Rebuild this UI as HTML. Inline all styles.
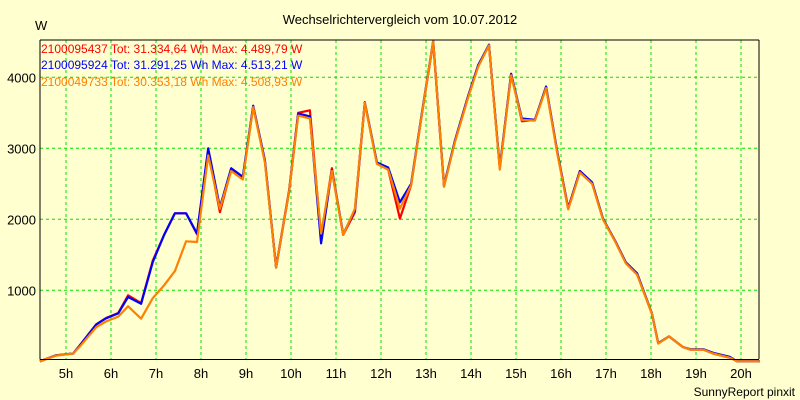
<!DOCTYPE html>
<html><head><meta charset="utf-8"><style>
body{margin:0;background:#ffffd0;}
svg{display:block;font-family:"Liberation Sans",Arial,sans-serif;}
</style></head><body>
<svg id="chart" width="800" height="400">
<rect x="0" y="0" width="800" height="400" fill="#ffffd0"/>
<text x="400" y="24" text-anchor="middle" font-size="13">Wechselrichtervergleich vom 10.07.2012</text>
<text x="35" y="30" font-size="13">W</text>
<text x="795" y="396" text-anchor="end" font-size="12">SunnyReport pinxit</text>
<g id="grid"></g>
<g id="series"></g>
<line x1="40" y1="40" x2="759" y2="40" stroke="#000"/>
<line x1="759" y1="40" x2="759" y2="359" stroke="#000"/>
<line x1="40" y1="40" x2="40" y2="359.5" stroke="#000"/>
<line x1="40" y1="359.5" x2="759" y2="359.5" stroke="#000"/>
<g id="legend" font-size="12">
<text x="41" y="53" fill="#ff0000">2100095437 Tot: 31.334,64 Wh Max: 4.489,79 W</text>
<text x="41" y="69" fill="#0000ff">2100095924 Tot: 31.291,25 Wh Max: 4.513,21 W</text>
<text x="41" y="86" fill="#ff8000">2100049733 Tot: 30.353,18 Wh Max: 4.508,93 W</text>
</g>
</svg>
<script>
const times=[4.42,4.78,5.16,5.31,5.67,5.89,6.16,6.38,6.67,6.93,7.18,7.42,7.67,7.91,8.16,8.42,8.67,8.93,9.16,9.42,9.67,9.96,10.16,10.42,10.67,10.91,11.16,11.42,11.64,11.91,12.16,12.42,12.67,12.91,13.16,13.4,13.64,13.93,14.16,14.4,14.64,14.89,15.13,15.42,15.67,15.91,16.16,16.42,16.69,16.93,17.2,17.44,17.69,18.02,18.16,18.4,18.71,18.87,19.16,19.38,19.76,19.91,20.42];
const blueVals=[0,85,110,225,520,605,675,905,810,1400,1780,2085,2085,1800,3000,2170,2720,2600,3600,2830,1320,2400,3490,3450,1660,2690,1790,2130,3650,2800,2730,2240,2500,3500,4513,2480,3100,3720,4170,4460,2730,4050,3420,3400,3870,2970,2150,2680,2520,2010,1700,1395,1240,676,255,350,200,170,170,120,60,0,0];
const redVals=[0,85,110,225,520,610,680,930,820,1420,1780,2085,2085,1790,2960,2100,2700,2580,3590,2820,1330,2420,3500,3535,1750,2720,1780,2100,3640,2800,2700,2010,2480,3480,4490,2460,3100,3720,4170,4450,2720,4050,3380,3400,3860,2970,2160,2680,2520,2010,1700,1390,1230,670,255,350,200,165,165,110,50,0,0];
const orangeVals=[0,80,110,210,480,560,630,775,600,890,1070,1270,1690,1680,2900,2150,2680,2560,3580,2800,1320,2400,3460,3420,1800,2680,1780,2150,3640,2780,2700,2150,2480,3480,4509,2460,3080,3700,4150,4450,2700,4030,3400,3390,3850,2950,2140,2660,2500,2000,1690,1380,1220,670,250,350,200,165,165,110,50,0,0];
const xTicks=[5,6,7,8,9,10,11,12,13,14,15,16,17,18,19,20];
const yTicks=[1000,2000,3000,4000];
const NS='http://www.w3.org/2000/svg';
function xScale(t){return 66+(t-5)*45;}
function yScale(v){return 361.3-v*0.071;}
const grid=document.getElementById('grid');
xTicks.forEach(t=>{
  const l=document.createElementNS(NS,'line');
  l.setAttribute('x1',xScale(t));l.setAttribute('x2',xScale(t));
  l.setAttribute('y1',40);l.setAttribute('y2',359);
  l.setAttribute('stroke','#00e000');l.setAttribute('stroke-dasharray','3,3');
  
  
  grid.appendChild(l);
  const tx=document.createElementNS(NS,'text');
  tx.setAttribute('x',xScale(t));tx.setAttribute('y',378);
  tx.setAttribute('text-anchor','middle');tx.setAttribute('font-size','13');
  tx.textContent=t+'h';
  
  
  grid.appendChild(tx);
});
yTicks.forEach(v=>{
  const l=document.createElementNS(NS,'line');
  l.setAttribute('x1',40);l.setAttribute('x2',759);
  l.setAttribute('y1',yScale(v));l.setAttribute('y2',yScale(v));
  l.setAttribute('stroke','#00e000');l.setAttribute('stroke-dasharray','3,3');
  
  
  grid.appendChild(l);
  const tx=document.createElementNS(NS,'text');
  tx.setAttribute('x',36);tx.setAttribute('y',yScale(v)+5);
  tx.setAttribute('text-anchor','end');tx.setAttribute('font-size','13');
  tx.textContent=v;
  
  
  grid.appendChild(tx);
});
const sg=document.getElementById('series');
[[redVals,'#ff0000','series-red'],[blueVals,'#0000ff','series-blue'],[orangeVals,'#ff8000','series-orange']].forEach(([vals,col,name])=>{
  const p=document.createElementNS(NS,'polyline');
  p.setAttribute('points',vals.map((v,i)=>xScale(times[i]).toFixed(1)+','+yScale(v).toFixed(1)).join(' '));
  p.setAttribute('fill','none');p.setAttribute('stroke',col);p.setAttribute('stroke-width','2.2');
  p.setAttribute('stroke-linejoin','round');
  
  
  sg.appendChild(p);
});
</script>
</body></html>
